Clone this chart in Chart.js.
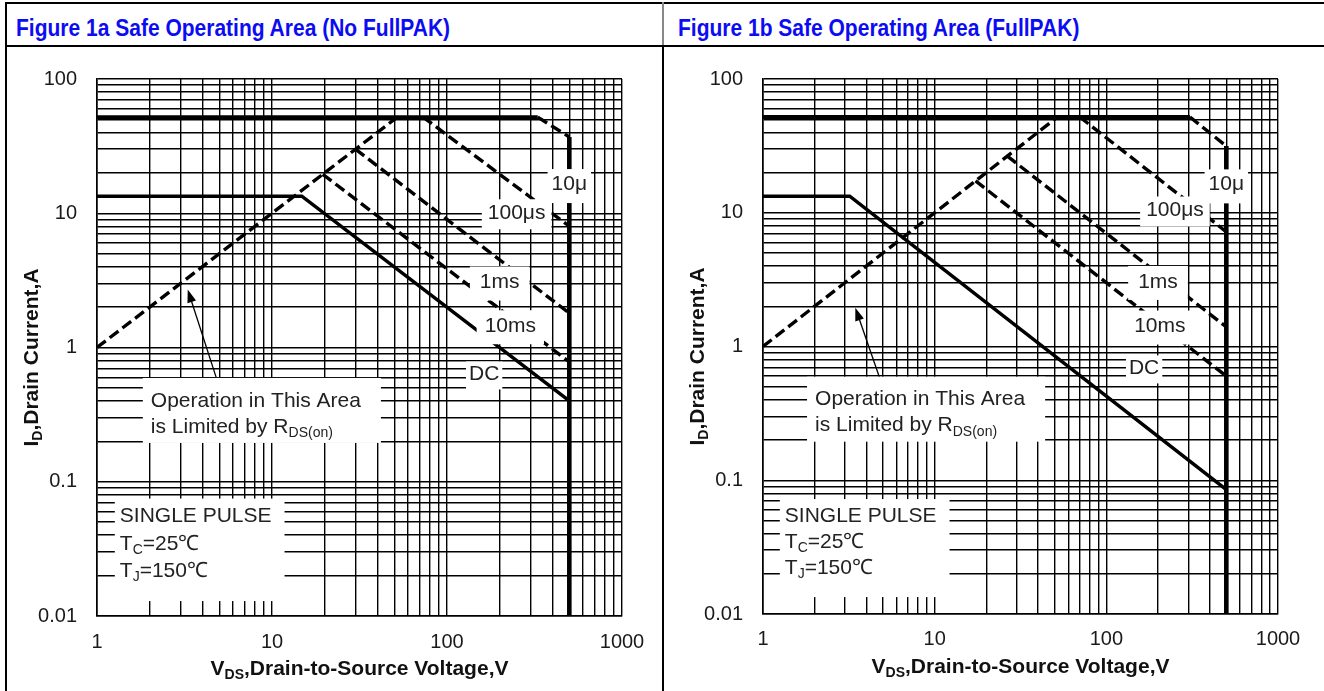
<!DOCTYPE html>
<html>
<head>
<meta charset="utf-8">
<script src="https://cdn.jsdelivr.net/npm/chart.js@4.4.1/dist/chart.umd.min.js"></script>
<style>
  html, body { margin: 0; padding: 0; background: #fff; }
  body { width: 1324px; height: 691px; position: relative; overflow: hidden;
         font-family: 'Liberation Sans', Arial, sans-serif; }
  .rule { position: absolute; background: #000; }
  .title { position: absolute; top: 14px; line-height: 24px; font-size: 21px; font-weight: bold;
           color: #0c0cf2; white-space: nowrap; transform: scaleY(1.15); transform-origin: left top; }
  canvas { position: absolute; top: 47px; }
</style>
</head>
<body>
<div class="rule" style="left:5px; top:2px; width:1319px; height:2px;"></div>
<div class="rule" style="left:5px; top:45px; width:1319px; height:2px;"></div>
<div class="rule" style="left:5px; top:2px; width:2px; height:689px;"></div>
<div class="rule" style="left:662px; top:2px; width:2px; height:43px; background:#888;"></div>
<div class="rule" style="left:662px; top:45px; width:2px; height:646px;"></div>
<div class="title" style="left:16px;">Figure 1a Safe Operating Area (No FullPAK)</div>
<div class="title" style="left:678px;">Figure 1b Safe Operating Area (FullPAK)</div>
<canvas id="soaA" width="655" height="644" style="left:7px;"></canvas>
<canvas id="soaB" width="660" height="644" style="left:664px;"></canvas>

<script>
// axes
const xDecades = [1, 10, 100, 1000];
const yDecades = [0.01, 0.1, 1, 10, 100];
const xTickLabels = ['1', '10', '100', '1000'];
const yTickLabels = ['0.01', '0.1', '1', '10', '100'];
const minorSteps = [1, 2, 3, 4, 5, 6, 7, 8, 9];

// Figure 1a - no FullPAK (V, A)
const aLimitV = [1, 330];      const aLimitI = [52, 52];
const a10usV = [330, 500];     const a10usI = [52, 37];
const aVmaxV = [500, 500];     const aVmaxI = [37, 0.01];
const aRdsV = [1, 52];         const aRdsI = [1, 52];
const a100usV = [73, 500];     const a100usI = [52, 8];
const a1msV = [30, 500];       const a1msI = [30, 1.8];
const a10msV = [19.5, 500];    const a10msI = [19.5, 0.78];
const aDcV = [1, 14.8, 500];   const aDcI = [13.4, 13.4, 0.4];

// Figure 1b - FullPAK (V, A)
const bLimitV = [1, 307];      const bLimitI = [52, 52];
const b10usV = [307, 500];     const b10usI = [52, 31.5];
const bVmaxV = [500, 500];     const bVmaxI = [31.5, 0.01];
const bRdsV = [1, 52];         const bRdsI = [1, 52];
const b100usV = [70, 500];     const b100usI = [52, 7.2];
const b1msV = [26.5, 500];     const b1msI = [26.5, 1.4];
const b10msV = [17.3, 500];    const b10msI = [17.3, 0.6];
const bDcV = [1, 3.2, 500];    const bDcI = [13.3, 13.3, 0.085];

const FONT = "'Liberation Sans', Arial, sans-serif";

const gridOf = decades => decades.slice(0, -1)
  .flatMap(d => minorSteps.map(m => d * m))
  .concat(decades[decades.length - 1]);

const labelFor = (decades, labels) => value => {
  const k = decades.findIndex(d => Math.abs(value / d - 1) < 1e-6);
  return k < 0 ? '' : labels[k];
};

const pts = (vs, is) => vs.map((v, k) => ({ x: v, y: is[k] }));
const solid = (vs, is, w) => ({ data: pts(vs, is), borderColor: '#000', borderWidth: w, pointRadius: 0 });
const dashed = (vs, is) => ({ data: pts(vs, is), borderColor: '#000', borderWidth: 3.4, borderDash: [11, 5], pointRadius: 0 });

// text with "_" segments drawn as subscripts
function richParts(ctx, segs, size, weight) {
  return segs.map(s => {
    const sub = s.startsWith('_');
    const f = `${weight} ${sub ? Math.round(size * 0.68) : size}px ${FONT}`;
    const t = sub ? s.slice(1) : s;
    ctx.font = f;
    return { t, f, dy: sub ? size * 0.3 : 0, w: ctx.measureText(t).width };
  });
}
function drawRich(ctx, segs, x, y, size, weight, align) {
  const parts = richParts(ctx, segs, size, weight);
  const w = parts.reduce((s, p) => s + p.w, 0);
  let cx = align === 'center' ? x - w / 2 : x;
  ctx.textAlign = 'left';
  ctx.textBaseline = 'middle';
  parts.forEach(p => { ctx.font = p.f; ctx.fillText(p.t, cx, y + p.dy); cx += p.w; });
}

function notesPlugin(cfg) {
  return {
    id: 'sheetNotes',
    afterDatasetsDraw(chart) {
      const { ctx, chartArea: a, scales: { x, y } } = chart;
      ctx.save();
      ctx.beginPath();
      ctx.rect(a.left, a.top, a.right - a.left, a.bottom - a.top);
      ctx.clip();

      // arrows
      ctx.strokeStyle = '#000';
      ctx.fillStyle = '#000';
      cfg.arrows.forEach(ar => {
        const x0 = x.getPixelForValue(ar.from[0]), y0 = y.getPixelForValue(ar.from[1]);
        const x1 = x.getPixelForValue(ar.to[0]), y1 = y.getPixelForValue(ar.to[1]);
        const ang = Math.atan2(y1 - y0, x1 - x0);
        ctx.lineWidth = 1.3;
        ctx.beginPath(); ctx.moveTo(x0, y0); ctx.lineTo(x1 - 8 * Math.cos(ang), y1 - 8 * Math.sin(ang)); ctx.stroke();
        ctx.beginPath();
        ctx.moveTo(x1, y1);
        ctx.lineTo(x1 - 13 * Math.cos(ang) + 4.5 * Math.sin(ang), y1 - 13 * Math.sin(ang) - 4.5 * Math.cos(ang));
        ctx.lineTo(x1 - 13 * Math.cos(ang) - 4.5 * Math.sin(ang), y1 - 13 * Math.sin(ang) + 4.5 * Math.cos(ang));
        ctx.closePath(); ctx.fill();
      });

      // labels on white boxes
      cfg.labels.forEach(lb => {
        const px = x.getPixelForValue(lb.at[0]), py = y.getPixelForValue(lb.at[1]);
        const lh = lb.lh || 26;
        const widths = lb.lines.map(l => richParts(ctx, l, 21, 'normal').reduce((s, p) => s + p.w, 0));
        const w = Math.max(...widths);
        const h = lb.lines.length * lh;
        const left = lb.align === 'center' ? px - w / 2 : px;
        const top = py - h / 2;
        const [pl, pt, pr, pb] = lb.pad || [5, 3, 5, 3];
        ctx.fillStyle = '#fff';
        ctx.fillRect(left - pl, top - pt + 2, w + pl + pr, h + pt + pb - 2);
        ctx.fillStyle = '#222';
        lb.lines.forEach((l, k) => drawRich(ctx, l, lb.align === 'center' ? px : left, top + lh * (k + 0.5), 21, 'normal', lb.align));
      });
      ctx.restore();
    },
    afterDraw(chart) {
      const { ctx, chartArea: a } = chart;
      ctx.save();
      ctx.fillStyle = '#111';
      drawRich(ctx, cfg.xTitle, (a.left + a.right) / 2, a.bottom + 53, 21, 'bold', 'center');
      ctx.translate(a.left - 65, (a.top + a.bottom) / 2 + 10);
      ctx.rotate(-Math.PI / 2);
      drawRich(ctx, cfg.yTitle, 0, 0, 21, 'bold', 'center');
      ctx.restore();
    }
  };
}

function axis(decades, labels, grid, fit, pad) {
  return {
    type: 'logarithmic',
    min: decades[0],
    max: decades[decades.length - 1],
    afterBuildTicks: s => { s.ticks = grid.map(v => ({ value: v })); },
    afterFit: fit,
    ticks: {
      autoSkip: false, maxRotation: 0, padding: pad, color: '#1a1a1a',
      font: { family: FONT, size: 20 },
      callback: labelFor(decades, labels)
    },
    grid: { color: '#000', lineWidth: 1.4, drawTicks: false },
    border: { color: '#000', width: 1.6 }
  };
}

function makeChart(id, datasets, notes, frame) {
  new Chart(document.getElementById(id), {
    type: 'line',
    data: { datasets },
    options: {
      responsive: false,
      animation: false,
      parsing: false,
      layout: { padding: { left: 0, top: frame.top, right: frame.right, bottom: 0 } },
      plugins: { legend: { display: false }, tooltip: { enabled: false } },
      scales: {
        x: axis(xDecades, xTickLabels, gridOf(xDecades), s => { s.height = frame.xh; }, frame.xpad),
        y: axis(yDecades, yTickLabels, gridOf(yDecades), s => { s.width = frame.yw; }, 20)
      }
    },
    plugins: [notesPlugin(notes)]
  });
}

const xTitle = ['V', '_DS', ',Drain-to-Source Voltage,V'];
const yTitle = ['I', '_D', ',Drain Current,A'];
const rdsText = [['Operation in This Area'], ['is Limited by R', '_DS(on)']];
const pulseText = [['SINGLE PULSE'], ['T', '_C', '=25\u2103'], ['T', '_J', '=150\u2103']];

makeChart('soaA', [
  solid(aLimitV, aLimitI, 3.8),
  dashed(a10usV, a10usI),
  solid(aVmaxV, aVmaxI, 4.6),
  dashed(aRdsV, aRdsI),
  dashed(a100usV, a100usI),
  dashed(a1msV, a1msI),
  dashed(a10msV, a10msI),
  solid(aDcV, aDcI, 3.5)
], {
  xTitle, yTitle,
  arrows: [{ from: [4.9, 0.55], to: [3.3, 2.7] }],
  labels: [
    { at: [500, 16.5], align: 'center', lines: [['10\u03bc']], pad: [4, 4, 4, 6] },
    { at: [250, 10], align: 'center', lines: [['100\u03bcs']], pad: [6, 3, 6, 3] },
    { at: [200, 3.05], align: 'center', lines: [['1ms']], pad: [10, 5, 10, 5] },
    { at: [230, 1.44], align: 'center', lines: [['10ms']], pad: [8, 5, 8, 5] },
    { at: [163, 0.63], align: 'center', lines: [['DC']], pad: [3, 2, 3, 2] },
    { at: [2.03, 0.32], align: 'left', lines: rdsText, pad: [8, 12, 20, 3] },
    { at: [1.35, 0.0345], align: 'left', lines: pulseText, lh: 27.5, pad: [5, 6, 13, 16] }
  ]
}, { top: 22, right: 40, xh: 75, yw: 90, xpad: 14 });

makeChart('soaB', [
  solid(bLimitV, bLimitI, 3.8),
  dashed(b10usV, b10usI),
  solid(bVmaxV, bVmaxI, 4.6),
  dashed(bRdsV, bRdsI),
  dashed(b100usV, b100usI),
  dashed(b1msV, b1msI),
  dashed(b10msV, b10msI),
  solid(bDcV, bDcI, 3.5)
], {
  xTitle, yTitle,
  arrows: [{ from: [4.93, 0.52], to: [3.45, 1.95] }],
  labels: [
    { at: [500, 16.3], align: 'center', lines: [['10\u03bc']], pad: [4, 4, 4, 6] },
    { at: [251, 10.4], align: 'center', lines: [['100\u03bcs']], pad: [6, 3, 6, 3] },
    { at: [200, 3.04], align: 'center', lines: [['1ms']], pad: [10, 5, 10, 5] },
    { at: [205, 1.41], align: 'center', lines: [['10ms']], pad: [8, 5, 8, 5] },
    { at: [166, 0.686], align: 'center', lines: [['DC']], pad: [3, 2, 3, 2] },
    { at: [2.01, 0.32], align: 'left', lines: rdsText, pad: [8, 12, 20, 3] },
    { at: [1.34, 0.0345], align: 'left', lines: pulseText, lh: 26, pad: [5, 6, 13, 16] }
  ]
}, { top: 29, right: 46, xh: 77, yw: 99, xpad: 13 });
</script>
</body>
</html>
